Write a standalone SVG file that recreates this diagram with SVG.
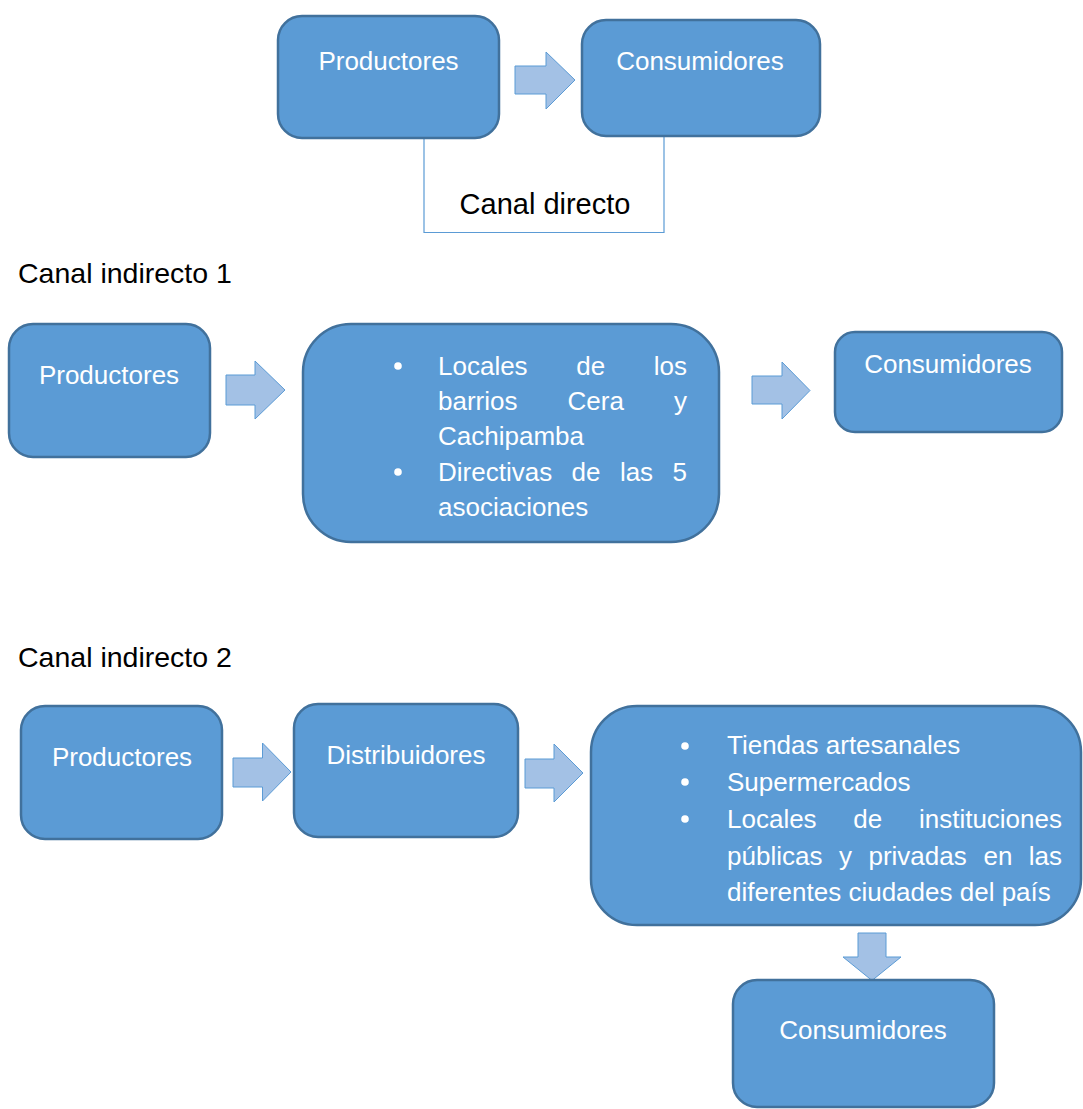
<svg xmlns="http://www.w3.org/2000/svg" width="1083" height="1109" viewBox="0 0 1083 1109">
<style>
.box{fill:#5b9bd5;stroke:#41719c;stroke-width:2.5}
.arr{fill:#a3c1e5;stroke:#5b9bd5;stroke-width:1}
.t{font-family:"Liberation Sans",Arial,sans-serif;font-size:26px;fill:#ffffff}
.c{text-anchor:middle}
.e{text-anchor:end}
.h{font-family:"Liberation Sans",Arial,sans-serif;font-size:28.5px;fill:#000000}
.br{fill:none;stroke:#5b9bd5;stroke-width:1.2}
.dot{fill:#ffffff}
</style>
<rect width="1083" height="1109" fill="#ffffff"/>

<g id="connectors">
<path class="br" d="M424 138 V232.5 H664 V136"/>
<path id="a1" class="arr" d="M515 66 H546 V52 L575 80 L546 109 V94 H515 Z"/>
<path id="a2" class="arr" d="M226 375 H255 V361 L285 390 L255 419 V405 H226 Z"/>
<path id="a3" class="arr" d="M752 376 H782 V362 L810 390.5 L782 419 V404 H752 Z"/>
<path id="a4" class="arr" d="M233 758 H262.5 V743 L291 772 L262.5 801 V787 H233 Z"/>
<path id="a5" class="arr" d="M525 759 H554 V744 L583 773 L554 802 V788 H525 Z"/>
<path id="a6" class="arr" d="M858 933 H886 V957 H901 L872 980.5 L843 957 H858 Z"/>
</g>

<g id="n1-productores">
<rect class="box" x="278" y="16" width="221" height="122" rx="24"/>
<text class="t c" x="388.5" y="70">Productores</text>
</g>
<g id="n1-consumidores">
<rect class="box" x="582" y="20" width="238" height="116" rx="24"/>
<text class="t c" x="700" y="70">Consumidores</text>
</g>
<g id="label-directo">
<text class="h c" x="545" y="214" style="font-size:29px">Canal directo</text>
</g>

<g id="label-indirecto1">
<text class="h" x="18" y="283">Canal indirecto 1</text>
</g>
<g id="n2-productores">
<rect class="box" x="9" y="324" width="201" height="133" rx="24"/>
<text class="t c" x="109" y="384">Productores</text>
</g>
<g id="n2-locales">
<rect class="box" x="303" y="324" width="416" height="218" rx="48"/>
<circle class="dot" cx="398" cy="366" r="3.8"/>
<circle class="dot" cx="398" cy="472" r="3.8"/>
<text class="t" x="438" y="375">Locales</text>
<text class="t c" x="590.7" y="375">de</text>
<text class="t e" x="687" y="375">los</text>
<text class="t" x="438" y="410">barrios</text>
<text class="t c" x="595.7" y="410">Cera</text>
<text class="t e" x="687" y="410">y</text>
<text class="t" x="438" y="445">Cachipamba</text>
<text class="t" x="438" y="481">Directivas</text>
<text class="t c" x="586" y="481">de</text>
<text class="t c" x="636.5" y="481">las</text>
<text class="t e" x="687" y="481">5</text>
<text class="t" x="438" y="516">asociaciones</text>
</g>
<g id="n2-consumidores">
<rect class="box" x="835" y="332" width="227" height="100" rx="20"/>
<text class="t c" x="948" y="373">Consumidores</text>
</g>

<g id="label-indirecto2">
<text class="h" x="18" y="667">Canal indirecto 2</text>
</g>
<g id="n3-productores">
<rect class="box" x="21" y="706" width="201" height="133" rx="24"/>
<text class="t c" x="122" y="766">Productores</text>
</g>
<g id="n3-distribuidores">
<rect class="box" x="294" y="704" width="224" height="133" rx="24"/>
<text class="t c" x="406" y="764">Distribuidores</text>
</g>
<g id="n3-tiendas">
<rect class="box" x="591" y="706" width="490" height="219" rx="46"/>
<circle class="dot" cx="685" cy="746" r="3.8"/>
<circle class="dot" cx="685" cy="782" r="3.8"/>
<circle class="dot" cx="685" cy="819" r="3.8"/>
<text class="t" x="727" y="754">Tiendas artesanales</text>
<text class="t" x="727" y="791">Supermercados</text>
<text class="t" x="727" y="828">Locales</text>
<text class="t c" x="867.8" y="828">de</text>
<text class="t e" x="1062" y="828">instituciones</text>
<text class="t" x="727" y="864.5">públicas</text>
<text class="t c" x="845.5" y="864.5">y</text>
<text class="t c" x="917.6" y="864.5">privadas</text>
<text class="t c" x="997.9" y="864.5">en</text>
<text class="t e" x="1062" y="864.5">las</text>
<text class="t" x="727" y="900.5">diferentes ciudades del país</text>
</g>
<g id="n3-consumidores">
<rect class="box" x="733" y="980" width="261" height="127" rx="24"/>
<text class="t c" x="863" y="1039">Consumidores</text>
</g>
</svg>
